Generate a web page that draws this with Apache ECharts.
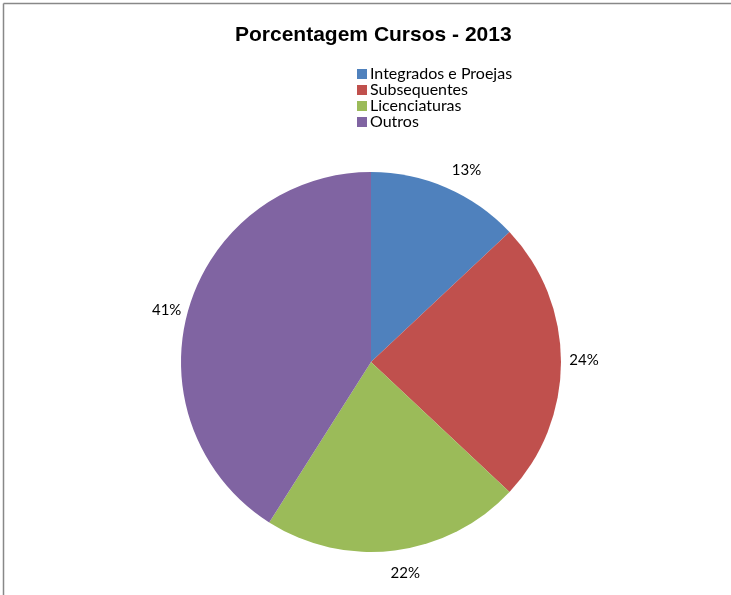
<!DOCTYPE html>
<html>
<head>
<meta charset="utf-8">
<script src="https://cdn.jsdelivr.net/npm/echarts@6/dist/echarts.min.js"></script>
<style>
html,body{margin:0;padding:0;background:#fff;}
#chart{width:731px;height:595px;}
</style>
</head>
<body>
<div id="chart"></div>
<script>
const titleText = 'Porcentagem Cursos - 2013';
const categories = ['Integrados e Proejas', 'Subsequentes', 'Licenciaturas', 'Outros'];
const values = [13, 24, 22, 41];
const colors = ['#4F81BD', '#C0504D', '#9BBB59', '#8064A2'];
// small label nudges (style only) to mimic Excel's label placement
const labelNudge = [[9, 8], [-5, -2], [7, -5], [5, 9]];

const chart = echarts.init(document.getElementById('chart'));
const data = categories.map((c, i) => ({ name: c, value: values[i], itemStyle: { color: colors[i] } }));
const labelData = categories.map((c, i) => ({ name: c, value: values[i], label: { offset: labelNudge[i] } }));

chart.setOption({
  animation: false,
  backgroundColor: '#fff',
  title: {
    text: titleText,
    left: 230, top: 20,
    textStyle: { fontFamily: 'Liberation Sans', fontWeight: 'bold', fontSize: 21, color: '#000' }
  },
  legend: {
    orient: 'vertical', left: 352, top: 61,
    itemWidth: 10, itemHeight: 10, itemGap: 0, icon: 'rect',
    data: categories,
    textStyle: { fontFamily: 'Lato', fontSize: 16, lineHeight: 16, color: '#000', padding: [0, 0, 0, -2] }
  },
  graphic: [
    { type: 'line', shape: { x1: 3.5, y1: 3.5, x2: 731, y2: 3.5 }, style: { stroke: '#888', lineWidth: 1.5 } },
    { type: 'line', shape: { x1: 3.5, y1: 3.5, x2: 3.5, y2: 595 }, style: { stroke: '#888', lineWidth: 1.5 } }
  ],
  series: [
    {
      type: 'pie', center: [371, 362], radius: 190, startAngle: 90, clockwise: true,
      data: data, label: { show: false }, labelLine: { show: false },
      emphasis: { disabled: true }
    },
    {
      type: 'pie', center: [371, 362], radius: [204, 226], startAngle: 90, clockwise: true,
      data: labelData, silent: true, legendHoverLink: false,
      itemStyle: { color: 'rgba(0,0,0,0)' },
      label: {
        show: true, position: 'inside', rotate: 0,
        formatter: p => p.value + '%',
        fontFamily: 'Lato', fontSize: 15, color: '#000'
      },
      labelLine: { show: false }
    }
  ]
});
</script>
</body>
</html>
